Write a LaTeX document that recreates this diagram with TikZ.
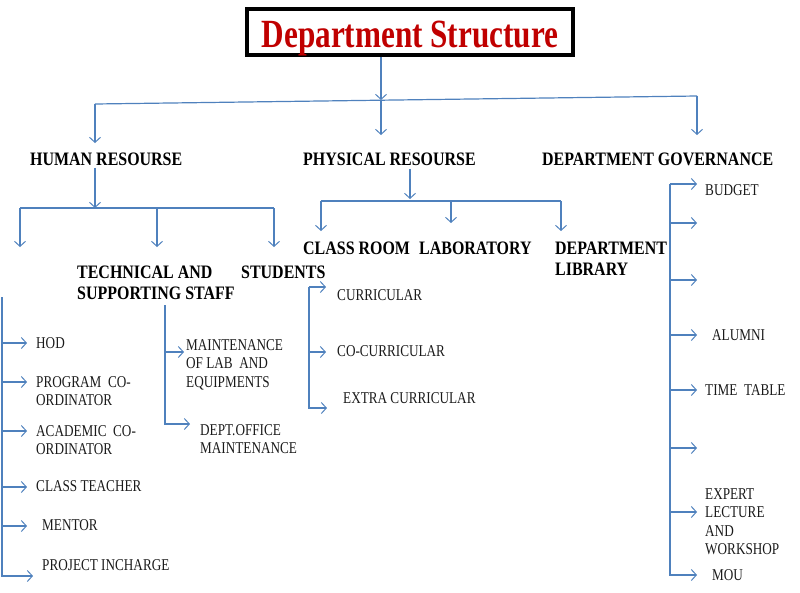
\documentclass[tikz,border=0pt]{standalone}
\usepackage{fontspec}
\usetikzlibrary{arrows.meta,calc}
\newfontfamily\smallfam[FakeStretch=0.8]{Liberation Serif}
\newfontfamily\headfam[FakeStretch=0.84]{Liberation Serif}
\newfontfamily\titlefam[FakeStretch=0.78]{Liberation Serif}
\definecolor{linec}{HTML}{4F81BD}
\definecolor{titlered}{HTML}{C00000}
\definecolor{txt}{HTML}{1A1A1A}
\tikzset{
  conn/.style={draw=linec, line width=1.2pt, -{Straight Barb[length=5pt,width=11pt,line width=1pt]}},
  plain/.style={draw=linec, line width=1.2pt},
  item/.style={anchor=north west, inner sep=0pt, align=left, text=txt, font=\smallfam\fontsize{16.5}{18.3}\selectfont},
  head/.style={anchor=north west, inner sep=0pt, align=left, text=black, font=\headfam\bfseries\fontsize{19}{21.5}\selectfont},
}
\begin{document}
\begin{tikzpicture}[x=1pt,y=-1pt]
\useasboundingbox (0,0) rectangle (800,592);
% title
\node[draw=black, line width=3.6pt, minimum width=326pt, minimum height=46pt, inner sep=0pt,
      text height=34pt, text depth=4pt,
      text=titlered, font=\titlefam\bfseries\fontsize{40}{44}\selectfont] (title) at (410,32) {Department Structure};
% level 1
\coordinate (hub) at (381,100);
\coordinate (barL) at (95,104);
\coordinate (barR) at (697,96);
\coordinate (tipH) at (95,143);
\coordinate (tipP) at (381,135);
\coordinate (tipG) at (697,135);
\draw[conn] (title.south -| hub) -- (hub);
\draw[plain] (barL) -- (barR);
\draw[conn] (barL) -- (tipH);
\draw[conn] (hub) -- (tipP);
\draw[conn] (barR) -- (tipG);
\node[head] (human) at (30,152.7) {HUMAN RESOURSE};
\node[head] (phys) at (303,152.7) {PHYSICAL RESOURSE};
\node[head] (gov) at (542,152.7) {DEPARTMENT GOVERNANCE};
% human resource level
\coordinate (hhub) at (95,208);
\coordinate (hL) at (20,208);
\coordinate (hM) at (157,208);
\coordinate (hR) at (274,208);
\coordinate (hLt) at (20,247);
\coordinate (hMt) at (157,247);
\coordinate (hRt) at (274,247);
\draw[conn] (human.south -| hhub) ++(0,2) -- (hhub);
\draw[plain] (hL) -- (hR);
\draw[conn] (hL) -- (hLt);
\draw[conn] (hM) -- (hMt);
\draw[conn] (hR) -- (hRt);
\node[head] (tech) at (77,265.7) {TECHNICAL AND\\SUPPORTING STAFF};
\node[head] (stud) at (241,265.7) {STUDENTS};
% left column (faculty)
\node[item] (hod) at (36,337.5) {HOD};
\node[item] (pc) at (36,376.5) {PROGRAM\ \ CO-\\ORDINATOR};
\node[item] (ac) at (36,425.5) {ACADEMIC\ \ CO-\\ORDINATOR};
\node[item] (ct) at (36,480.5) {CLASS TEACHER};
\node[item] (mentor) at (42,519.5) {MENTOR};
\node[item] (proj) at (42,559.5) {PROJECT INCHARGE};
\coordinate (fTop) at (2,297);
\coordinate (fBot) at (2,576);
\coordinate (fBotT) at (33,576);
\draw[conn] (fTop) -- (fBot) -- (fBotT);
\foreach \yy/\nm in {343/hod,382/pc,431/ac,487/ct,526/mentor}{
  \draw[conn] (2,\yy) -- (27,\yy);
}
% technical staff
\node[item] (mlab) at (186,339.5) {MAINTENANCE\\OF LAB\ \ AND\\EQUIPMENTS};
\node[item] (doff) at (200,424.5) {DEPT.OFFICE\\MAINTENANCE};
\coordinate (tTop) at (165,305);
\coordinate (tMid) at (165,352);
\coordinate (tBot) at (165,424);
\coordinate (tMidT) at (184,352);
\coordinate (tBotT) at (190,424);
\draw[conn] (tTop) -- (tBot) -- (tBotT);
\draw[conn] (tMid) -- (tMidT);
% students
\node[item] (cur) at (337,289.5) {CURRICULAR};
\node[item] (cocur) at (337,345.5) {CO-CURRICULAR};
\node[item] (extra) at (343,392.5) {EXTRA CURRICULAR};
\coordinate (sTop) at (309,287);
\coordinate (sMid) at (309,352);
\coordinate (sBot) at (309,408);
\coordinate (sTopT) at (326,287);
\coordinate (sMidT) at (326,352);
\coordinate (sBotT) at (327,408);
\draw[conn] (sTop) -- (sTopT);
\draw[conn] (sTop) -- (sBot) -- (sBotT);
\draw[conn] (sMid) -- (sMidT);
% physical resource level
\coordinate (phub) at (410,199);
\coordinate (pL) at (321,201);
\coordinate (pM) at (451,201);
\coordinate (pR) at (561,201);
\coordinate (pLt) at (321,231);
\coordinate (pMt) at (451,223);
\coordinate (pRt) at (561,231);
\draw[conn] (phys.south -| phub) ++(0,3) -- (phub);
\draw[plain] (pL) -- (pR);
\draw[conn] (pL) -- (pLt);
\draw[conn] (pM) -- (pMt);
\draw[conn] (pR) -- (pRt);
\node[head] (croom) at (303,241.7) {CLASS ROOM};
\node[head] (lab) at (419,241.7) {LABORATORY};
\node[head] (lib) at (555,241.7) {DEPARTMENT\\LIBRARY};
% governance
\node[item] (budget) at (705,184.5) {BUDGET};
\node[item] (alumni) at (712,329.5) {ALUMNI};
\node[item] (tt) at (705,384.5) {TIME\ \ TABLE};
\node[item] (expert) at (705,488.5) {EXPERT\\LECTURE\\AND\\WORKSHOP};
\node[item] (mou) at (712,569.5) {MOU};
\coordinate (gTop) at (670,184);
\coordinate (gBot) at (670,575);
\coordinate (gTopT) at (697,184);
\coordinate (gBotT) at (697,575);
\draw[conn] (gTop) -- (gTopT);
\draw[conn] (gTop) -- (gBot) -- (gBotT);
\foreach \yy in {223,280,335,390,448,512}{
  \draw[conn] (670,\yy) -- (697,\yy);
}
\end{tikzpicture}
\end{document}
